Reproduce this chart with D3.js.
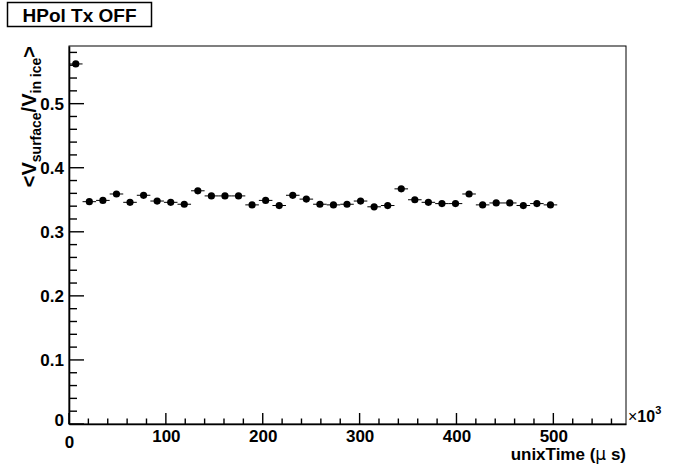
<!DOCTYPE html>
<html>
<head>
<meta charset="utf-8">
<script src="https://cdn.jsdelivr.net/npm/d3@7"></script>
<style>
  html, body { margin: 0; padding: 0; background: #fff; }
  svg { display: block; font-family: "Liberation Sans", Arial, Helvetica, sans-serif; }
</style>
</head>
<body>
<svg id="chart" width="696" height="472"></svg>
<script>
// ---- data ----
const title = "HPol Tx OFF";
const xCenters = [7, 21, 35, 49, 63, 77, 91, 105, 119, 133, 147, 161, 175, 189, 203, 217, 231, 245,
                  259, 273, 287, 301, 315, 329, 343, 357, 371, 385, 399, 413, 427, 441, 455, 469, 483, 497];
const xHalfWidth = 7;
const yValues = [0.562, 0.347, 0.349, 0.359, 0.346, 0.357, 0.348, 0.346, 0.343, 0.364, 0.356, 0.356,
                 0.356, 0.342, 0.349, 0.341, 0.357, 0.351, 0.343, 0.342, 0.343, 0.348, 0.339, 0.341,
                 0.367, 0.350, 0.346, 0.344, 0.344, 0.359, 0.342, 0.345, 0.345, 0.341, 0.344, 0.342];
const xMajorTicks = [0, 100, 200, 300, 400, 500];
const yMajorTicks = [0, 0.1, 0.2, 0.3, 0.4, 0.5];
const yTickLabels = ["0", "0.1", "0.2", "0.3", "0.4", "0.5"];

const points = xCenters.map((x, i) => ({ x, y: yValues[i] }));

// ---- layout ----
const L = 69, R = 626, T = 46, B = 424;
const svg = d3.select("#chart");

const x = d3.scaleLinear().domain([0, 575]).range([L, R]);
const y = d3.scaleLinear().domain([0, 0.59]).range([B, T]);

// frame
svg.append("rect")
  .attr("x", L).attr("y", T).attr("width", R - L).attr("height", B - T)
  .attr("fill", "none").attr("stroke", "#000").attr("stroke-width", 1);

// x axis ticks (inside, upward)
const xMinor = d3.range(0, 575, 20);
svg.append("g").selectAll("line").data(xMinor).join("line")
  .attr("x1", d => x(d)).attr("x2", d => x(d))
  .attr("y1", B).attr("y2", d => (d % 100 === 0) ? B - 11 : B - 5.5)
  .attr("stroke", "#000").attr("stroke-width", 1.4);

const xAxisG = svg.append("g").attr("transform", `translate(0,${B})`)
  .call(d3.axisBottom(x).tickValues(xMajorTicks).tickSize(0).tickPadding(6).tickFormat(d3.format("d")));
xAxisG.select(".domain").attr("stroke-width", 1.6);
xAxisG.selectAll("text").attr("font-size", 17).attr("font-weight", "bold").attr("fill", "#000")
  .attr("font-family", "Liberation Sans, Arial, sans-serif");

// y axis ticks (inside, rightward)
const yMinor = d3.range(0, 0.59, 0.02);
svg.append("g").selectAll("line").data(yMinor).join("line")
  .attr("y1", d => y(d)).attr("y2", d => y(d))
  .attr("x1", L).attr("x2", (d, i) => (i % 5 === 0) ? L + 15 : L + 8)
  .attr("stroke", "#000").attr("stroke-width", 1.4);

const yAxisG = svg.append("g").attr("transform", `translate(${L},0)`)
  .call(d3.axisLeft(y).tickValues(yMajorTicks).tickSize(0).tickPadding(5)
    .tickFormat((d, i) => yTickLabels[i]));
yAxisG.select(".domain").attr("stroke-width", 1.6);
yAxisG.selectAll("text").attr("font-size", 17).attr("font-weight", "bold").attr("fill", "#000")
  .attr("font-family", "Liberation Sans, Arial, sans-serif");
// shift "0" labels like ROOT
xAxisG.selectAll(".tick text").filter(d => d === 0).attr("dy", "1.05em");
yAxisG.selectAll(".tick text").filter(d => d === 0).attr("dy", "0.1em");

// error bars (horizontal)
svg.append("g").selectAll("line").data(points).join("line")
  .attr("x1", d => x(d.x - xHalfWidth)).attr("x2", d => x(d.x + xHalfWidth))
  .attr("y1", d => y(d.y)).attr("y2", d => y(d.y))
  .attr("stroke", "#000").attr("stroke-width", 1);

// markers
svg.append("g").selectAll("circle").data(points).join("circle")
  .attr("cx", d => x(d.x)).attr("cy", d => y(d.y)).attr("r", 3.6)
  .attr("fill", "#000");

// title box
const tb = svg.append("g");
tb.append("rect").attr("x", 7.5).attr("y", 2.5).attr("width", 144).attr("height", 24)
  .attr("fill", "#fff").attr("stroke", "#000").attr("stroke-width", 1.5);
tb.append("text").attr("x", 79.5).attr("y", 21.5).attr("text-anchor", "middle")
  .attr("font-size", 19).attr("font-weight", "bold").text(title);

// x axis title
svg.append("text").attr("x", R).attr("y", 460).attr("text-anchor", "end")
  .attr("font-size", 17).attr("font-weight", "bold")
  .call(t => {
    t.append("tspan").text("unixTime (");
    t.append("tspan").attr("font-weight", "normal").attr("font-family", "DejaVu Sans").text("μ");
    t.append("tspan").text(" s)");
  });

// x10^3
svg.append("text").attr("x", 628).attr("y", 422).attr("font-size", 16)
  .call(t => {
    t.append("tspan").attr("font-weight", "normal").text("×");
    t.append("tspan").attr("font-weight", "bold").text("10");
    t.append("tspan").attr("font-weight", "bold").attr("font-size", 11).attr("dy", -8).text("3");
  });

// y axis title
svg.append("text").attr("transform", `translate(36,${T}) rotate(-90)`)
  .attr("text-anchor", "end").attr("font-weight", "bold").attr("font-size", 20)
  .call(t => {
    t.append("tspan").text("<V");
    t.append("tspan").attr("font-size", 14).attr("dy", 5).text("surface");
    t.append("tspan").attr("dy", -5).text("/V");
    t.append("tspan").attr("font-size", 14).attr("dy", 5).text("in ice");
    t.append("tspan").attr("dy", -5).text(">");
  });
</script>
</body>
</html>
